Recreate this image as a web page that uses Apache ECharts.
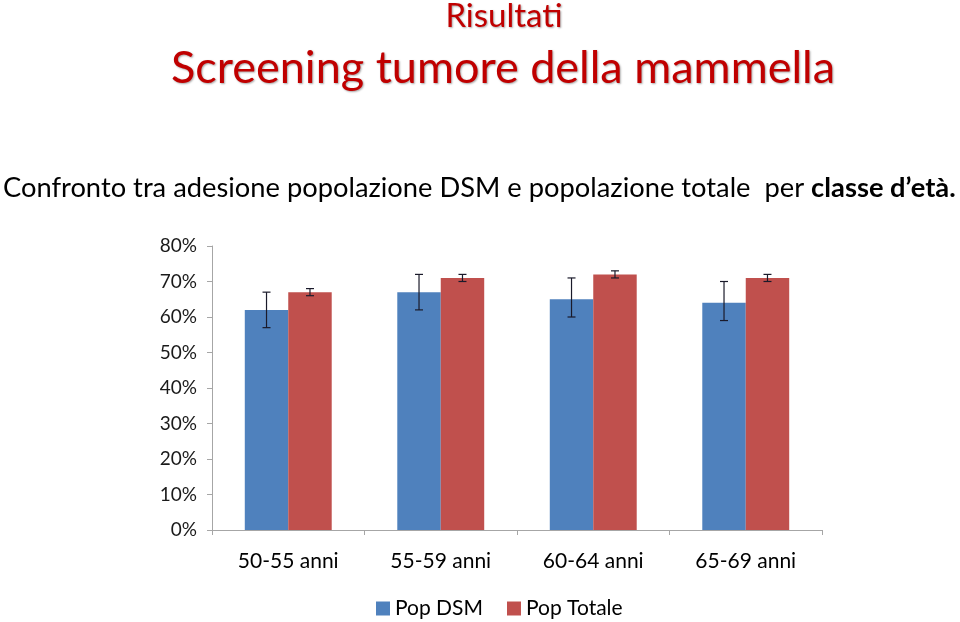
<!DOCTYPE html>
<html><head><meta charset="utf-8">
<script src="https://cdn.jsdelivr.net/npm/echarts@6/dist/echarts.min.js"></script>
<style>html,body{margin:0;padding:0;background:#fff}#c{width:960px;height:622px}</style>
</head><body><div id="c"></div>
<script>
const categories = ['50-55 anni', '55-59 anni', '60-64 anni', '65-69 anni'];
const seriesNames = ['Pop DSM', 'Pop Totale'];
const popDSM = [62, 67, 65, 64];
const popDSMLow = [57, 62, 60, 59];
const popDSMHigh = [67, 72, 71, 70];
const popTot = [67, 71, 72, 71];
const popTotLow = [66, 70, 71, 70];
const popTotHigh = [68, 72, 73, 72];
const yTicks = [0, 10, 20, 30, 40, 50, 60, 70, 80];

const colors = ['#4F81BD', '#C0504D'];
const catGap = 0.43;
const FONT = 'Lato, "Open Sans", sans-serif';

function errorSeries(low, high, side) {
  return {
    type: 'custom',
    name: 'err' + side,
    silent: true,
    z: 10,
    data: low.map((l, i) => [i, l, high[i]]),
    encode: { x: 0, y: [1, 2] },
    renderItem: function (params, api) {
      const i = api.value(0);
      const band = api.size([1, 0])[0];
      const bw = band * (1 - catGap) / 2;
      const pLow = api.coord([i, api.value(1)]);
      const pHigh = api.coord([i, api.value(2)]);
      const x = pLow[0] + side * bw / 2;
      const cap = 4;
      const st = { stroke: '#1a1a2a', lineWidth: 1.2 };
      return {
        type: 'group',
        children: [
          { type: 'line', shape: { x1: x, y1: pLow[1], x2: x, y2: pHigh[1] }, style: st },
          { type: 'line', shape: { x1: x - cap, y1: pLow[1], x2: x + cap, y2: pLow[1] }, style: st },
          { type: 'line', shape: { x1: x - cap, y1: pHigh[1], x2: x + cap, y2: pHigh[1] }, style: st }
        ]
      };
    }
  };
}

const chart = echarts.init(document.getElementById('c'), null, { renderer: 'canvas' });
chart.setOption({
  animation: false,
  color: colors,
  textStyle: { fontFamily: FONT },
  graphic: [
    { type: 'text', style: { x: 504, y: 16, text: 'Risultati', textAlign: 'center', verticalAlign: 'middle',
      font: '33px ' + FONT, fill: '#C00000', textShadowColor: 'rgba(0,0,0,0.35)', textShadowBlur: 2, textShadowOffsetX: 1, textShadowOffsetY: 1 } },
    { type: 'text', style: { x: 503, y: 68, text: 'Screening tumore della mammella', textAlign: 'center', verticalAlign: 'middle',
      font: '45px ' + FONT, fill: '#C00000', textShadowColor: 'rgba(0,0,0,0.35)', textShadowBlur: 2, textShadowOffsetX: 1, textShadowOffsetY: 1 } },
    { type: 'text', style: { x: 3, y: 188, text: '{a|Confronto tra adesione popolazione DSM e popolazione totale  per }{b|classe d\u2019et\u00e0.}',
      textAlign: 'left', verticalAlign: 'middle',
      rich: { a: { fontSize: 27.3, fontFamily: FONT, color: '#000' }, b: { fontSize: 27.3, fontFamily: FONT, fontWeight: 'bold', color: '#000' } } } }
  ],
  legend: {
    data: seriesNames,
    left: 376, top: 598, padding: 0,
    icon: 'rect', itemWidth: 14, itemHeight: 14, itemGap: 24,
    textStyle: { fontSize: 21, color: '#000', fontFamily: FONT }
  },
  grid: { left: 212, right: 138, top: 246, bottom: 92, containLabel: false },
  xAxis: {
    type: 'category',
    data: categories,
    axisLine: { lineStyle: { color: '#A6A6A6' } },
    axisTick: { show: true, length: 5, lineStyle: { color: '#A6A6A6' } },
    axisLabel: { fontSize: 21, color: '#000', margin: 21, fontFamily: FONT }
  },
  yAxis: {
    type: 'value',
    min: 0, max: 80, interval: 10,
    axisLine: { show: true, lineStyle: { color: '#A6A6A6' } },
    axisTick: { show: true, length: 5, lineStyle: { color: '#A6A6A6' } },
    splitLine: { show: false },
    axisLabel: { fontSize: 19, color: '#1a1a1a', margin: 15, fontFamily: FONT,
      formatter: v => yTicks.includes(v) ? v + '%' : '' }
  },
  series: [
    { type: 'bar', name: seriesNames[0], data: popDSM, barGap: '0%', barCategoryGap: (catGap * 100) + '%', itemStyle: { color: colors[0] } },
    { type: 'bar', name: seriesNames[1], data: popTot, barGap: '0%', barCategoryGap: (catGap * 100) + '%', itemStyle: { color: colors[1] } },
    errorSeries(popDSMLow, popDSMHigh, -1),
    errorSeries(popTotLow, popTotHigh, 1)
  ]
});
</script>
</body></html>
